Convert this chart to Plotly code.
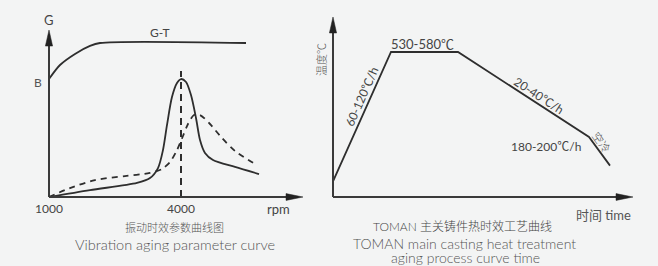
import plotly.graph_objects as go

W, H = 658, 266
BG = "#f3f4f4"
LINE = "#2e2e2e"
AXC = "#3a3a3a"
TXT = "#555555"
FONT = "Lato, 'Noto Sans CJK SC', sans-serif"
CJK = "'Noto Sans CJK SC', Lato, sans-serif"

# ---------------- data: left panel (vibration aging) ----------------
rpm_solid = [1000, 1932, 3000, 3295, 3477, 3591, 3682, 3795, 3909, 4000, 4114, 4227, 4341, 4432, 4545, 4727, 5227, 5773]
amp_solid = [0, 4.5, 9.1, 12.3, 18.8, 30.5, 46.8, 64.9, 74.0, 76.6, 74.7, 66.2, 51.3, 37.0, 28.6, 24.0, 19.5, 14.9]

rpm_dash = [1000, 1477, 2045, 2727, 3295, 3568, 3750, 3909, 4045, 4159, 4295, 4432, 4659, 4932, 5227, 5682]
amp_dash = [0, 5.8, 11.0, 13.6, 15.6, 18.2, 22.7, 30.5, 39.6, 47.4, 53.2, 53.2, 47.4, 38.3, 29.9, 21.4]

rpm_gt = [1000, 1250, 1591, 1932, 2159, 5477]
amp_gt = [76.6, 85.7, 92.9, 98.1, 100, 100]

resonance_rpm = 4000
resonance_top = 81.8
rpm_ticks = [1000, 4000]
left_axis_end = (6773, 108.4)   # x tip, y tip

# ---------------- data: right panel (heat treatment) ----------------
time_h = [0, 5.8, 12.5, 25.6, 27.7]
temp_c = [60, 555, 555, 230, 120]
right_axis_end = (30.0, 689)

# ---------------- geometry helpers ----------------
SPLIT = 316
def px(x):
    return x / W
def py(y):
    return 1 - y / H

# left axes: px 49 -> 1000 rpm, px 181 -> 4000 rpm ; py 197 -> 0, py 43 -> 100
sx1 = 132 / 3000.0
x1_0 = 1000 - 49 / sx1
x1_1 = x1_0 + SPLIT / sx1
sy1 = 154 / 100.0
y1_0 = -(H - 197) / sy1
y1_1 = 197 / sy1

# right axes: px 333 -> t=0, 10 px per unit ; py 197 -> 0 C, py 52 -> 555 C
sx2 = 10.0
x2_0 = (SPLIT - 333) / sx2
x2_1 = (W - 333) / sx2
sy2 = 145 / 555.0
y2_0 = -(H - 197) / sy2
y2_1 = 197 / sy2

fig = go.Figure()

fig.add_trace(go.Scatter(x=rpm_gt, y=amp_gt, mode="lines", xaxis="x", yaxis="y",
                         line=dict(color=LINE, width=1.8, shape="spline", smoothing=0.8)))
fig.add_trace(go.Scatter(x=rpm_solid, y=amp_solid, mode="lines", xaxis="x", yaxis="y",
                         line=dict(color=LINE, width=1.8, shape="spline", smoothing=0.8)))
fig.add_trace(go.Scatter(x=rpm_dash, y=amp_dash, mode="lines", xaxis="x", yaxis="y",
                         line=dict(color=LINE, width=1.8, shape="spline", smoothing=0.8, dash="6px,5px")))
fig.add_trace(go.Scatter(x=[resonance_rpm, resonance_rpm], y=[0, resonance_top], mode="lines",
                         xaxis="x", yaxis="y", line=dict(color=LINE, width=2, dash="7px,5px")))
fig.add_trace(go.Scatter(x=time_h, y=temp_c, mode="lines", xaxis="x2", yaxis="y2",
                         line=dict(color=LINE, width=1.8)))

shapes = []
# left axes lines
shapes.append(dict(type="line", xref="x", yref="y", x0=1000, y0=0, x1=1000, y1=left_axis_end[1] - 10,
                   line=dict(color=AXC, width=2)))
shapes.append(dict(type="line", xref="x", yref="y", x0=1000, y0=0, x1=left_axis_end[0] - 300, y1=0,
                   line=dict(color=AXC, width=2)))
# right axes lines
shapes.append(dict(type="line", xref="x2", yref="y2", x0=0, y0=0, x1=0, y1=right_axis_end[1] - 50,
                   line=dict(color=AXC, width=2)))
shapes.append(dict(type="line", xref="x2", yref="y2", x0=0, y0=0, x1=right_axis_end[0] - 1.2, y1=0,
                   line=dict(color=AXC, width=2)))

def arrow_up(xref, yref, xa, ya):
    return dict(type="path", xref=xref, yref=yref, xsizemode="pixel", ysizemode="pixel",
                xanchor=xa, yanchor=ya, path="M0,0 L-3.6,-16 L3.6,-16 Z",
                fillcolor="#222222", line=dict(color="#222222", width=0.5))

def arrow_right(xref, yref, xa, ya):
    return dict(type="path", xref=xref, yref=yref, xsizemode="pixel", ysizemode="pixel",
                xanchor=xa, yanchor=ya, path="M0,0 L-17,3.4 L-17,-3.4 Z",
                fillcolor="#222222", line=dict(color="#222222", width=0.5))

shapes.append(arrow_up("x", "y", 1000, left_axis_end[1]))
shapes.append(arrow_right("x", "y", left_axis_end[0], 0))
shapes.append(arrow_up("x2", "y2", 0, right_axis_end[1]))
shapes.append(arrow_right("x2", "y2", right_axis_end[0], 0))

ann = []
def label(text, x, y, size=12, angle=0, color=TXT, weight=400, family=FONT):
    ann.append(dict(text=text, x=px(x), y=py(y), xref="paper", yref="paper",
                    showarrow=False, textangle=angle, xanchor="center", yanchor="middle",
                    font=dict(family=family, size=size, color=color, weight=weight)))

# left panel texts
label("G", 49, 20, 13, color="#444")
label("B", 38, 82, 12, color="#555")
label("G-T", 160, 32, 12, color="#444")
for v in rpm_ticks:
    ann.append(dict(text=str(v), x=v, y=0, xref="x", yref="y", yshift=-11, showarrow=False,
                    font=dict(family=FONT, size=12, color="#444")))
label("rpm", 278, 209, 13, color="#444")
label("振动时效参数曲线图", 174, 227, 11, color="#555", weight=300, family=CJK)
label("Vibration aging parameter curve", 175, 244, 14.5, color="#555", weight=300)

# right panel texts
label("温度℃", 321, 60, 11, angle=-90, color="#555", weight=300, family=CJK)
label("530-580℃", 422, 44, 13, color="#444")
label("60-120℃/h", 361, 97, 12, angle=-66, color="#444")
label("20-40℃/h", 539, 95, 12, angle=33, color="#444")
label("180-200℃/h", 546, 146, 12, color="#444")
label("空冷", 602, 142, 11, angle=55, color="#444", weight=300, family=CJK)
label("时间 time", 603, 215, 13, color="#555")
label("TOMAN 主关铸件热时效工艺曲线", 463, 226, 12, color="#444", weight=300)
label("TOMAN main casting heat treatment", 464, 243, 14, color="#555", weight=300)
label("aging process curve time", 465, 257, 14, color="#555", weight=300)

hidden = dict(visible=False, showgrid=False, zeroline=False, fixedrange=True)
fig.update_layout(
    width=W, height=H, margin=dict(l=0, r=0, t=0, b=0),
    paper_bgcolor=BG, plot_bgcolor=BG, showlegend=False,
    xaxis=dict(domain=[0, SPLIT / W], range=[x1_0, x1_1], anchor="y", **hidden),
    yaxis=dict(domain=[0, 1], range=[y1_0, y1_1], anchor="x", **hidden),
    xaxis2=dict(domain=[SPLIT / W, 1], range=[x2_0, x2_1], anchor="y2", **hidden),
    yaxis2=dict(domain=[0, 1], range=[y2_0, y2_1], anchor="x2", **hidden),
    shapes=shapes, annotations=ann,
)

fig.write_html("out.html", config=dict(displayModeBar=False),
               post_script="document.body.style.margin='0';document.body.style.background='%s';" % BG)
